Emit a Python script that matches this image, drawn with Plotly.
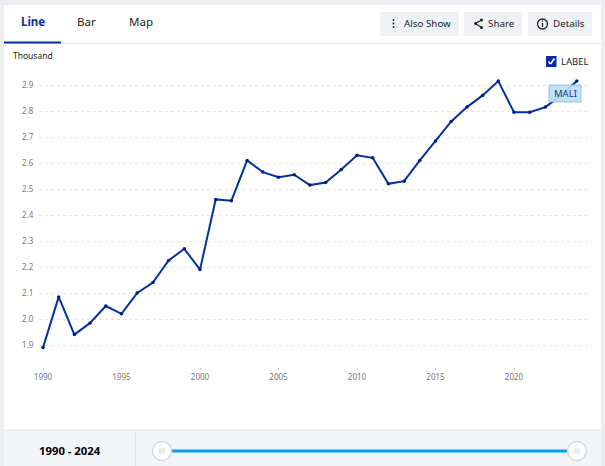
import plotly.graph_objects as go

W, H = 605, 466

# ---- data ----
years = list(range(1990, 2025))
values = [1.89, 2.085, 1.94, 1.985, 2.05, 2.02, 2.10, 2.14, 2.225, 2.27,
          2.19, 2.46, 2.455, 2.61, 2.565, 2.545, 2.555, 2.515, 2.525, 2.575,
          2.63, 2.62, 2.52, 2.53, 2.61, 2.685, 2.76, 2.815, 2.86, 2.915,
          2.795, 2.795, 2.815, 2.86, 2.915]
y_ticks = [1.9, 2.0, 2.1, 2.2, 2.3, 2.4, 2.5, 2.6, 2.7, 2.8, 2.9]
tabs = ["Line", "Bar", "Map"]
series_name = "MALI"
range_text = "1990 - 2024"

FONT = "Noto Sans"
NAVY = "#0033a0"


def px(x):
    return x / W


def py(y):
    return 1 - y / H


def rect(x0, y0, x1, y1, fill, line=None):
    return dict(type="rect", xref="paper", yref="paper", x0=px(x0), x1=px(x1),
                y0=py(y0), y1=py(y1), fillcolor=fill,
                line=dict(color=line or fill, width=1 if line else 0), layer="below")


def circle(cx, cy, r, fill, line=None, width=1.5, layer="above"):
    return dict(type="circle", xref="paper", yref="paper", x0=px(cx - r), x1=px(cx + r),
                y0=py(cy + r), y1=py(cy - r), fillcolor=fill,
                line=dict(color=line or fill, width=width if line else 0), layer=layer)


def seg(x0, y0, x1, y1, color, width=1.0, layer="above"):
    return dict(type="line", xref="paper", yref="paper", x0=px(x0), x1=px(x1),
                y0=py(y0), y1=py(y1), line=dict(color=color, width=width), layer=layer)


def text(x, y, s, size=11, color="#222222", anchor="center", weight=None):
    return dict(xref="paper", yref="paper", x=px(x), y=py(y), text=s, showarrow=False,
                xanchor=anchor, yanchor="middle",
                font=dict(family=FONT, size=size, color=color, weight=weight))


fig = go.Figure()
fig.add_trace(go.Scatter(x=years, y=values, mode="lines+markers",
                         line=dict(color=NAVY, width=2),
                         marker=dict(color="#001a8c", size=3.5),
                         hoverinfo="x+y", showlegend=False))

# ---- page furniture ----
shapes = [
    # card and bands
    rect(0, 0, W, H, "#eceef2"),
    rect(4, 5, 601, H, "#ffffff"),
    rect(4, 430, 601, H, "#f4f5f8"),
    seg(4, 43.5, 601, 43.5, "#e6e9ee", 1.5, "below"),
    seg(4, 430, 601, 430, "#e3e6eb", 1, "below"),
    seg(135.5, 430, 135.5, H, "#e3e6eb", 1, "below"),
    seg(4, 42.5, 61, 42.5, NAVY, 2),
    # buttons
    rect(380, 12, 459, 36, "#eff1f5"),
    rect(464, 12, 522, 36, "#eff1f5"),
    rect(528, 12, 592, 36, "#eff1f5"),
    # also show dots
    circle(393.5, 20, 0.9, "#222222"),
    circle(393.5, 23.5, 0.9, "#222222"),
    circle(393.5, 27, 0.9, "#222222"),
    # share icon
    seg(475.5, 23.5, 481.5, 20, "#222222", 1.1),
    seg(475.5, 23.5, 481.5, 27.5, "#222222", 1.1),
    circle(475.5, 23.5, 1.5, "#222222"),
    circle(481.5, 20, 1.5, "#222222"),
    circle(481.5, 27.5, 1.5, "#222222"),
    # details icon
    circle(542.5, 24, 5, "rgba(0,0,0,0)", "#222222", 1.3),
    seg(542.5, 23, 542.5, 27, "#222222", 1.2),
    circle(542.5, 21, 0.7, "#222222"),
    # checkbox
    dict(type="rect", xref="paper", yref="paper", x0=px(546), x1=px(556.5), y0=py(56), y1=py(67),
         fillcolor="#0a2aa8", line=dict(width=0), layer="above"),
    seg(548.5, 61.5, 550.5, 64, "#ffffff", 1.6),
    seg(550.5, 64, 554.5, 58.5, "#ffffff", 1.6),
    # series pill, sits over the line
    dict(type="rect", xref="paper", yref="paper", x0=px(549), x1=px(581), y0=py(85), y1=py(102),
         fillcolor="rgba(190,222,243,0.92)", line=dict(color="rgba(130,185,225,0.8)", width=1), layer="above"),
    # range slider
    rect(170, 449.5, 570, 452.5, "#00a2ed"),
    circle(162, 451, 9.5, "#ffffff", "#d5dbe2"),
    circle(577, 451, 9.5, "#ffffff", "#d5dbe2"),
]
for cx in (162, 577):
    for dx in (-2, 0, 2):
        shapes.append(seg(cx + dx, 448, cx + dx, 454, "#c9ced6", 0.8))

# left anchored labels sit 2px right of x because of the annotation padding
annotations = [
    text(32.5, 21.5, tabs[0], 11.5, "#0a2aa8", weight=700),
    text(87, 21.5, tabs[1], 11.5, "#222222"),
    text(141, 21.5, tabs[2], 11.5, "#222222"),
    text(11, 56, "Thousand", 8.5, "#222222", "left"),
    text(402, 23.5, "Also Show", 9.8, "#222222", "left"),
    text(486, 23.5, "Share", 9.8, "#222222", "left"),
    text(551, 23.5, "Details", 9.8, "#222222", "left"),
    text(558.5, 61.5, "LABEL", 9.5, "#222222", "left"),
    text(565, 93.5, series_name, 9.5, "#0a3a9a"),
    text(70, 450.5, range_text, 11.3, "#000000", weight=700),
]

fig.update_layout(
    width=W, height=H,
    margin=dict(l=0, r=0, t=0, b=0),
    paper_bgcolor="#ffffff",
    plot_bgcolor="rgba(0,0,0,0)",
    shapes=shapes,
    annotations=annotations,
    font=dict(family=FONT),
    xaxis=dict(domain=[px(39), px(590)], range=[1989.745, 2024.84], automargin=False,
               tickmode="linear", tick0=1990, dtick=5,
               showgrid=False, zeroline=False, showline=False,
               ticks="outside", ticklen=2, tickcolor="#cccccc", tickwidth=1,
               tickfont=dict(family=FONT, size=8, color="#777777")),
    yaxis=dict(domain=[py(367), py(70)], range=[1.8154, 2.9577], automargin=False,
               tickmode="array", tickvals=y_ticks, ticktext=[f"{v:.1f}" for v in y_ticks],
               showgrid=True, gridcolor="#e6e6e6", griddash="dot", gridwidth=1,
               zeroline=False, showline=False,
               ticks="outside", ticklen=3, tickcolor="rgba(0,0,0,0)",
               tickfont=dict(family=FONT, size=8, color="#777777")),
)

fig.write_html("out.html", config=dict(displayModeBar=False),
               post_script="document.body.style.margin='0';")
